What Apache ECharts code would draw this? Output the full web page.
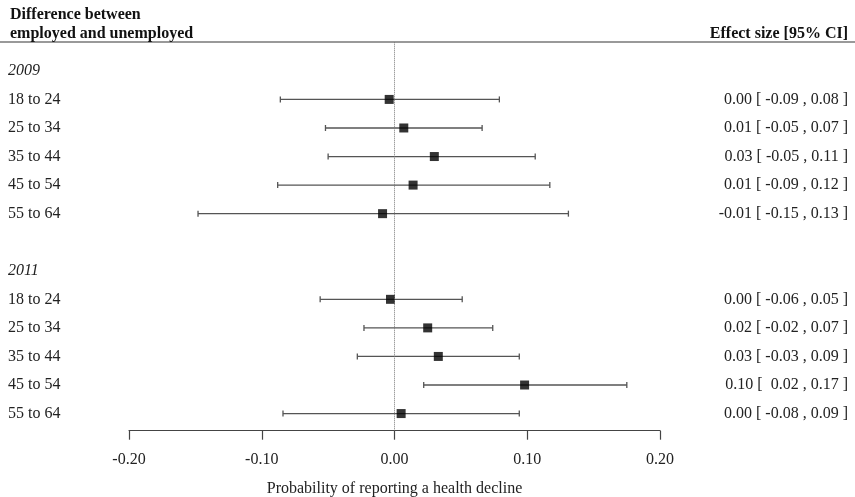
<!DOCTYPE html>
<html><head><meta charset="utf-8">
<script src="https://cdn.jsdelivr.net/npm/echarts@6/dist/echarts.min.js"></script>
<style>html,body{margin:0;padding:0;background:#fff}#c{width:855px;height:497px}</style>
</head><body><div id="c"></div>
<script>
var years = ['2009', '2011'];
var ageGroups = ['18 to 24', '25 to 34', '35 to 44', '45 to 54', '55 to 64'];
var est2009 = [-0.004, 0.007, 0.030, 0.014, -0.009];
var lo2009 = [-0.086, -0.052, -0.050, -0.088, -0.148];
var hi2009 = [0.079, 0.066, 0.106, 0.117, 0.131];
var est2011 = [-0.003, 0.025, 0.033, 0.098, 0.005];
var lo2011 = [-0.056, -0.023, -0.028, 0.022, -0.084];
var hi2011 = [0.051, 0.074, 0.094, 0.175, 0.094];
var effect2009 = ['0.00 [ -0.09 , 0.08 ]', '0.01 [ -0.05 , 0.07 ]', '0.03 [ -0.05 , 0.11 ]', '0.01 [ -0.09 , 0.12 ]', '-0.01 [ -0.15 , 0.13 ]'];
var effect2011 = ['0.00 [ -0.06 , 0.05 ]', '0.02 [ -0.02 , 0.07 ]', '0.03 [ -0.03 , 0.09 ]', '0.10 [  0.02 , 0.17 ]', '0.00 [ -0.08 , 0.09 ]'];
var xTicks = [-0.2, -0.1, 0, 0.1, 0.2];

// build row layout
var rowLeft = [], rowRight = [], rowIsHeader = [];
var ciData = [], estData = [];
function addGroup(year, est, lo, hi, eff) {
  rowLeft.push(year); rowRight.push(''); rowIsHeader.push(true);
  for (var i = 0; i < ageGroups.length; i++) {
    var r = rowLeft.length;
    rowLeft.push(ageGroups[i]); rowRight.push(eff[i]); rowIsHeader.push(false);
    ciData.push([lo[i], hi[i], r]);
    estData.push([est[i], r]);
  }
}
addGroup(years[0], est2009, lo2009, hi2009, effect2009);
rowLeft.push(''); rowRight.push(''); rowIsHeader.push(false);
addGroup(years[1], est2011, lo2011, hi2011, effect2011);

var serif = '"Liberation Serif", "DejaVu Serif", serif';
var chart = echarts.init(document.getElementById('c'));
function rowIdx(v) { return (Math.abs(v - Math.round(v)) < 1e-6) ? Math.round(v) : -99; }

chart.setOption({
  animation: false,
  textStyle: { fontFamily: serif },
  title: [
    { text: 'Difference between\nemployed and unemployed', left: 5, top: 0,
      textStyle: { fontFamily: serif, fontWeight: 'bold', fontSize: 16, color: '#111', lineHeight: 19 } },
    { text: 'Effect size [95% CI]', right: 2, top: 21,
      textStyle: { fontFamily: serif, fontWeight: 'bold', fontSize: 16, color: '#111' } }
  ],
  graphic: [
    { type: 'line', shape: { x1: 0, y1: 42, x2: 855, y2: 42 }, style: { stroke: '#777', lineWidth: 1.5 } }
  ],
  grid: { left: 129, right: 195, top: 42.3, bottom: 66.3, containLabel: false, outerBoundsMode: 'none' },
  xAxis: {
    type: 'value', min: -0.2, max: 0.2, interval: 0.1,
    axisLine: { show: true, onZero: false, lineStyle: { color: '#444', width: 1.2 } },
    axisTick: { show: true, length: 9, lineStyle: { color: '#444', width: 1.2 } },
    axisLabel: { margin: 21, fontSize: 16, color: '#222', fontFamily: serif,
      formatter: function (v) { return v.toFixed(2); } },
    splitLine: { show: false },
    name: 'Probability of reporting a health decline', nameLocation: 'middle', nameGap: 50,
    nameTextStyle: { fontSize: 16, color: '#222', fontFamily: serif }
  },
  yAxis: [{
    type: 'value', inverse: true, min: -1, max: 12.6, interval: 1,
    axisLine: { show: false }, axisTick: { show: false }, splitLine: { show: false },
    axisLabel: {
      align: 'left', margin: 121, fontSize: 16, color: '#222', fontFamily: serif, showMaxLabel: false,
      formatter: function (v) {
        var i = rowIdx(v);
        if (i < 0 || i >= rowLeft.length) return '';
        return rowIsHeader[i] ? '{it|' + rowLeft[i] + '}' : rowLeft[i];
      },
      rich: { it: { fontStyle: 'italic', fontSize: 16, color: '#222', fontFamily: serif } }
    }
  }, {
    type: 'value', inverse: true, min: -1, max: 12.6, interval: 1, position: 'right',
    axisLine: { show: false }, axisTick: { show: false }, splitLine: { show: false },
    axisLabel: {
      align: 'right', margin: 188, fontSize: 16, color: '#222', fontFamily: serif, showMaxLabel: false,
      formatter: function (v) {
        var i = rowIdx(v);
        if (i < 0 || i >= rowRight.length) return '';
        return rowRight[i];
      }
    }
  }],
  series: [{
    type: 'custom',
    data: ciData,
    encode: { x: [0, 1], y: 2 },
    renderItem: function (params, api) {
      var r = api.value(2);
      var p1 = api.coord([api.value(0), r]);
      var p2 = api.coord([api.value(1), r]);
      var st = { stroke: '#555', lineWidth: 1.3 };
      return { type: 'group', children: [
        { type: 'line', shape: { x1: p1[0], y1: p1[1], x2: p2[0], y2: p2[1] }, style: st },
        { type: 'line', shape: { x1: p1[0], y1: p1[1] - 3, x2: p1[0], y2: p1[1] + 3 }, style: st },
        { type: 'line', shape: { x1: p2[0], y1: p2[1] - 3, x2: p2[0], y2: p2[1] + 3 }, style: st }
      ] };
    }
  }, {
    type: 'scatter',
    data: estData,
    symbol: 'rect', symbolSize: 9,
    itemStyle: { color: '#000' },
    markLine: {
      silent: true, symbol: 'none', label: { show: false },
      lineStyle: { type: 'dotted', color: '#777', width: 1 },
      data: [{ xAxis: 0 }]
    }
  }]
});
</script></body></html>
